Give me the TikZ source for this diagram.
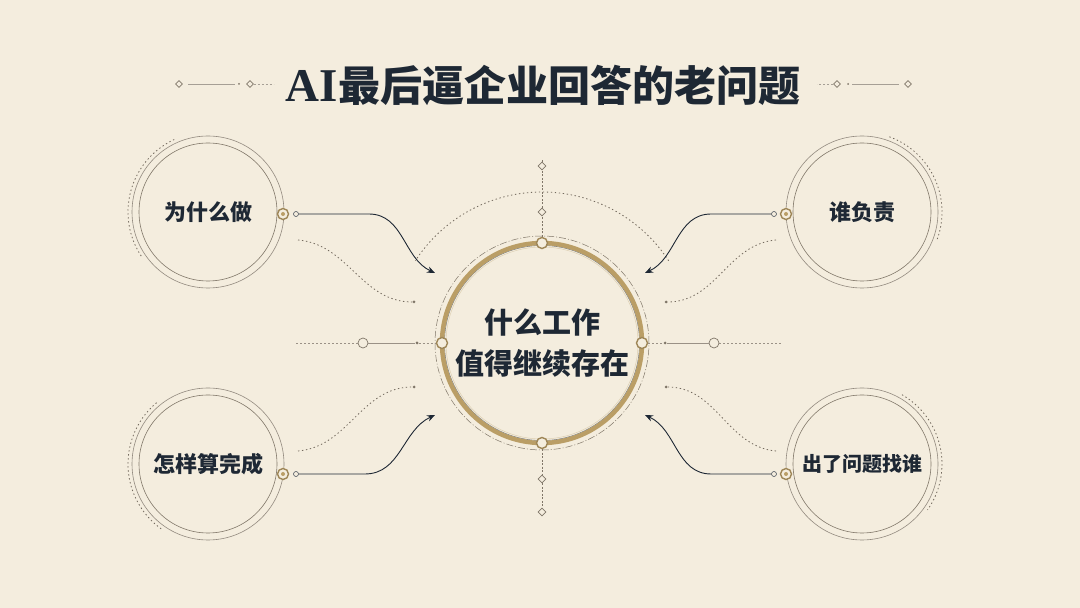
\documentclass[tikz,border=0pt]{standalone}
\usepackage{fontspec}
\newfontfamily\cjk{Noto Sans CJK SC}
\newfontfamily\titleserif{Liberation Serif}
\usetikzlibrary{arrows.meta, shapes.geometric}

\begin{document}
\begin{tikzpicture}[x=1pt, y=1pt,
    sat/.style={circle, draw=ring, line width=0.6pt, minimum size=138pt, inner sep=0pt, text=ink,
      font=\cjk\bfseries\fontsize{22}{26}\selectfont},
    conn/.style={draw=ink, line width=0.9pt, -{Stealth[length=8pt, width=6.5pt]}},
    trail/.style={draw=ring!90!black, line width=0.8pt, dash pattern=on 1.4pt off 2.6pt},
    knob/.style={circle, draw=gold!85!black, fill=paper, line width=1.4pt, minimum size=11pt, inner sep=0pt},
    pin/.style={circle, draw=ink!80, fill=paper, line width=0.6pt, minimum size=5pt, inner sep=0pt},
    gem/.style={diamond, draw=ring, fill=paper, line width=0.6pt, minimum size=8pt, inner sep=0pt},
    bead/.style={circle, fill=ring, minimum size=3pt, inner sep=0pt}]
  \definecolor{paper}{RGB}{244, 237, 222}
  \definecolor{ink}{RGB}{30, 40, 52}
  \definecolor{ring}{RGB}{128, 118, 104}
  \definecolor{gold}{RGB}{186, 158, 102}

  \fill[color=paper] (0,0) rectangle (1080,608);
  \useasboundingbox (0,0) rectangle (1080,608);

  % title and its ornaments
  \node[text=ink, font=\cjk\bfseries\fontsize{42}{46}\selectfont] (title) at (543,523)
    {{\titleserif\bfseries\fontsize{47}{50}\selectfont AI}最后逼企业回答的老问题};
  \node[gem, minimum size=7pt] (tl1) at (179,524) {};
  \node[bead, minimum size=2pt] (tl2) at (239,524) {};
  \node[gem, minimum size=7pt] (tl3) at (250,524) {};
  \node[gem, minimum size=7pt] (tr1) at (837,524) {};
  \node[bead, minimum size=2pt] (tr2) at (848,524) {};
  \node[gem, minimum size=7pt] (tr3) at (908,524) {};
  \draw[ring!70, line width=0.5pt] ([xshift=9pt]tl1.center) -- ([xshift=-4pt]tl2.center);
  \draw[ring!70, line width=0.5pt, dash pattern=on 2pt off 2pt] (tl3.east) -- ++(20,0);
  \draw[ring!70, line width=0.5pt, dash pattern=on 2pt off 2pt] (tr1.west) -- ++(-16,0);
  \draw[ring!70, line width=0.5pt] ([xshift=4pt]tr2.center) -- ([xshift=-9pt]tr3.center);

  % center circle
  \node[circle, draw=ink!60, line width=0.6pt, minimum size=186pt, text=ink, align=center,
    font=\cjk\bfseries\fontsize{29}{41}\selectfont] (core) at (542,265) {什么工作\\值得继续存在};
  \draw[gold, line width=4.5pt] (core.center) circle[radius=100];
  \draw[gold!50, line width=0.5pt] (core.center) circle[radius=96];
  \draw[ring, line width=0.5pt, dash pattern=on 7pt off 2pt on 1pt off 2pt] (core.center) circle[radius=107];
  \draw[trail] ([shift={(33:151)}]core.center) arc[start angle=33, end angle=147, radius=151];
  \foreach \a/\n in {0/e, 90/n, 180/w, 270/s}
    \node[knob] (knob\n) at ([shift={(\a:100)}]core.center) {};

  % vertical and horizontal axes
  \node[gem] (up1) at (542,396) {};
  \node[gem] (up2) at (542,442) {};
  \node[gem] (dn1) at (542,129) {};
  \node[gem] (dn2) at (542,96) {};
  \draw[ring, line width=0.5pt, dash pattern=on 2pt off 1.5pt] (knobn) -- (up1) -- (up2) -- ++(0,6);
  \draw[ring, line width=0.5pt, dash pattern=on 2pt off 1.5pt] (knobs) -- (dn1) -- (dn2);
  \node[circle, draw=ring, fill=paper, line width=0.7pt, minimum size=10pt, inner sep=0pt] (lring) at (363,265) {};
  \node[bead] (ldot) at (417,265) {};
  \node[circle, draw=ring, fill=paper, line width=0.7pt, minimum size=10pt, inner sep=0pt] (rring) at (714,265) {};
  \node[bead] (rdot) at (665,265) {};
  \draw[ring!80, line width=0.5pt, dash pattern=on 2pt off 2pt] (lring.west) -- ++(-63,0);
  \draw[ring!80, line width=0.5pt] (lring) -- (ldot);
  \draw[ring!80, line width=0.5pt, dash pattern=on 2pt off 2pt] (ldot) -- (knobw);
  \draw[ring!80, line width=0.5pt, dash pattern=on 2pt off 2pt] (knobe) -- (rdot);
  \draw[ring!80, line width=0.5pt] (rdot) -- (rring);
  \draw[ring!80, line width=0.5pt, dash pattern=on 2pt off 2pt] (rring.east) -- ++(62,0);

  % the four questions
  \node[sat] (why) at (208,396) {为什么做};
  \node[sat] (who) at (862,396) {谁负责};
  \node[sat] (done) at (208,144) {怎样算完成};
  \node[sat, font=\cjk\bfseries\fontsize{20}{24}\selectfont] (blame) at (862,144) {出了问题找谁};
  \foreach \s in {why, who, done, blame}
    \draw[ring!85, line width=0.6pt] (\s.center) circle[radius=76];
  \draw[trail] (why.center) ++(115:80) arc[start angle=115, end angle=215, radius=80];
  \draw[trail] (done.center) ++(130:80) arc[start angle=130, end angle=235, radius=80];
  \draw[trail] (who.center) ++(70:80) arc[start angle=70, end angle=-20, radius=80];
  \draw[trail] (blame.center) ++(60:80) arc[start angle=60, end angle=-35, radius=80];

  \node[knob] (whyk) at (283,394) {};
  \node[knob] (whok) at (786,394) {};
  \node[knob] (donek) at (283,134) {};
  \node[knob] (blamek) at (786,134) {};
  \foreach \k in {whyk, whok, donek, blamek}
    \fill[gold] (\k) circle (2);
  \node[pin] (whyp) at (296,394) {};
  \node[pin] (whop) at (774,394) {};
  \node[pin] (donep) at (296,134) {};
  \node[pin] (blamep) at (774,134) {};

  % arrows into the center
  \coordinate (whyt) at (435,335);
  \coordinate (whot) at (645,335);
  \coordinate (donet) at (435,193);
  \coordinate (blamet) at (645,193);
  \draw[conn] (whyp.east) -- ++(70,0) to[out=0, in=155] (whyt);
  \draw[conn] (whop.west) -- ++(-60,0) to[out=180, in=25] (whot);
  \draw[conn] (donep.east) -- ++(66,0) to[out=0, in=-155] (donet);
  \draw[conn] (blamep.west) -- ++(-60,0) to[out=180, in=-25] (blamet);

  % dotted trails
  \node[bead] (whye) at (414,306) {};
  \node[bead] (whoe) at (666,306) {};
  \node[bead] (donee) at (414,221) {};
  \node[bead] (blamee) at (666,221) {};
  \coordinate (whys) at (298,368);
  \coordinate (whos) at (776,368);
  \coordinate (dones) at (298,157);
  \coordinate (blames) at (776,157);
  \draw[trail] (whys) to[out=-5, in=180] (whye);
  \draw[trail] (whos) to[out=185, in=0] (whoe);
  \draw[trail] (dones) to[out=5, in=180] (donee);
  \draw[trail] (blames) to[out=175, in=0] (blamee);
\end{tikzpicture}
\end{document}
